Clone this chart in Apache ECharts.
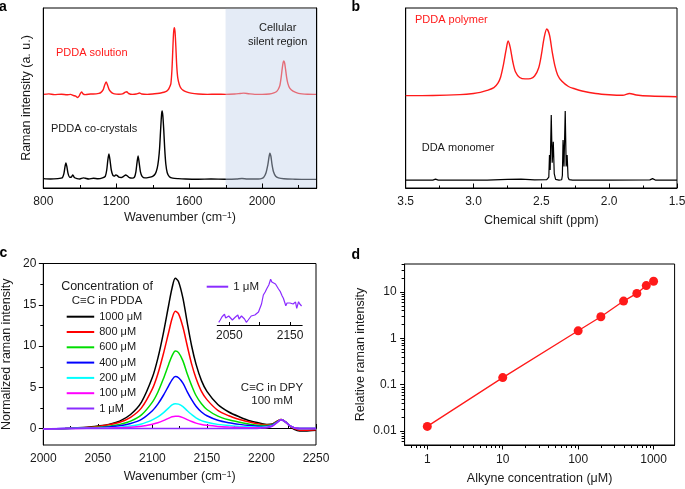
<!DOCTYPE html>
<html>
<head>
<meta charset="utf-8">
<script src="https://cdn.jsdelivr.net/npm/echarts@6/dist/echarts.min.js"></script>
<style>
  body { margin: 0; background: #fff; }
  #main { width: 685px; height: 489px; }
</style>
</head>
<body>
<div id="main"></div>
<script>
// ---- panel a : Raman spectra (wavenumber, a.u.) ----
const aRed = [[800,52.0],[830,52.3],[860,51.9],[900,52.1],[930,51.8],[950,52.0],[965,51.4],[978,51.0],[988,50.3],[996,51.0],[1003,52.4],[1010,53.4],[1018,52.3],[1030,51.9],[1060,52.2],[1090,52.3],[1105,52.6],[1115,53.0],[1128,54.5],[1136,57.0],[1145,58.9],[1153,57.0],[1162,54.5],[1175,53.0],[1190,52.3],[1215,52.1],[1235,52.3],[1250,53.2],[1258,53.5],[1268,52.5],[1290,52.0],[1310,52.2],[1328,52.8],[1340,52.2],[1370,52.0],[1400,52.2],[1425,52.5],[1445,52.8],[1462,53.2],[1477,53.8],[1488,55.0],[1495,56.5],[1500,58.0],[1506,66.0],[1511,78.0],[1515,86.5],[1519,89.0],[1523,86.5],[1527,79.0],[1532,68.0],[1538,61.0],[1546,57.5],[1555,55.5],[1568,54.2],[1585,53.4],[1610,52.7],[1650,52.2],[1700,52.0],[1750,52.1],[1800,52.0],[1850,52.2],[1880,52.5],[1900,52.7],[1925,52.4],[1960,52.0],[2000,52.0],[2040,52.2],[2065,52.8],[2080,53.6],[2090,55.0],[2098,57.0],[2105,61.5],[2111,66.5],[2116,69.8],[2120,70.6],[2124,69.5],[2129,66.0],[2135,61.5],[2142,58.0],[2152,55.5],[2170,53.8],[2200,52.6],[2250,52.1],[2300,52.0]];
const aBlack = [[800,5.2],[840,5.0],[880,5.2],[898,5.5],[905,5.8],[913,8.0],[919,11.8],[924,13.9],[930,11.5],[936,8.0],[945,6.0],[953,6.0],[962,7.3],[970,5.8],[985,5.2],[1000,5.0],[1020,5.6],[1030,5.4],[1050,5.0],[1075,5.4],[1100,5.1],[1125,5.6],[1140,6.5],[1148,10.0],[1154,15.5],[1160,18.9],[1166,15.5],[1173,10.0],[1182,7.0],[1190,6.6],[1198,7.3],[1206,6.9],[1215,6.0],[1228,5.8],[1242,6.6],[1252,7.2],[1260,6.8],[1272,5.8],[1288,5.5],[1300,6.0],[1308,9.0],[1314,14.0],[1320,17.8],[1326,14.0],[1333,9.0],[1342,6.5],[1358,5.6],[1380,5.9],[1400,6.5],[1415,8.0],[1425,11.0],[1432,15.5],[1438,22.0],[1444,33.0],[1449,41.0],[1452,42.8],[1456,40.0],[1461,32.0],[1466,22.0],[1472,13.5],[1480,8.5],[1492,6.3],[1510,5.5],[1540,5.2],[1580,5.0],[1650,4.9],[1720,5.0],[1800,4.9],[1860,5.0],[1890,5.3],[1920,5.0],[1980,5.0],[2000,5.3],[2010,6.0],[2022,8.5],[2032,13.0],[2038,17.0],[2043,19.4],[2049,17.5],[2055,13.0],[2063,9.0],[2075,6.5],[2090,5.6],[2120,5.1],[2180,4.9],[2240,4.8],[2300,4.8]];
const aSilent = [1800, 2300];
const aTicks = [800, 1200, 1600, 2000];
const aMinorTicks = [1000, 1400, 1800, 2200];

// ---- panel b : NMR (ppm, a.u.) ----
const bRed = [[3.5,51.3],[3.3,51.4],[3.1,51.9],[3.0,52.5],[2.95,53.1],[2.9,54.2],[2.85,55.8],[2.82,58.3],[2.8,61.7],[2.78,68.3],[2.76,76.7],[2.745,81.7],[2.73,78.3],[2.71,70],[2.69,64.4],[2.66,61.4],[2.62,60.6],[2.58,60.8],[2.55,62.2],[2.52,66.7],[2.5,73.9],[2.48,83.3],[2.46,88.3],[2.44,85],[2.42,75.6],[2.4,67.8],[2.38,62.8],[2.35,59.4],[2.3,56.4],[2.25,55],[2.2,53.9],[2.1,52.5],[2.0,51.8],[1.9,51.5],[1.85,52.5],[1.8,51.7],[1.7,51.1],[1.5,50.7]];
const bBlack = [[3.5,4.4],[3.3,4.4],[3.28,4.9],[3.26,4.4],[2.9,4.4],[2.75,4.8],[2.65,4.9],[2.55,4.5],[2.46,4.6],[2.445,6],[2.44,18.3],[2.435,10],[2.427,40.6],[2.42,14],[2.412,25.7],[2.405,8],[2.395,4.8],[2.37,4.4],[2.35,4.6],[2.345,7],[2.34,26.7],[2.333,12],[2.324,42.8],[2.317,12],[2.31,18.3],[2.303,6],[2.295,4.6],[2.27,4.4],[2.0,4.4],[1.7,4.5],[1.68,5.2],[1.66,4.4],[1.5,4.4]];

// ---- panel c : normalized spectra ----
const cWave = [2000,2020,2040,2050,2060,2070,2080,2090,2100,2105,2110,2115,2118,2121,2124,2128,2132,2136,2140,2145,2150,2160,2170,2180,2190,2200,2205,2210,2214,2218,2222,2226,2230,2235,2240,2250];
const c1000 = [-0.1,0.0,0.15,0.3,0.5,0.9,1.7,3.2,6.2,8.5,11.5,15.0,17.0,18.2,17.8,15.8,12.8,10.0,7.8,5.8,4.5,2.9,2.0,1.4,0.9,0.6,0.5,0.55,0.85,1.1,0.8,0.3,-0.1,-0.3,-0.3,-0.2];
const c800 = [-0.1,0.0,0.12,0.25,0.45,0.75,1.35,2.5,4.8,6.6,9.0,11.7,13.3,14.2,13.9,12.3,10.0,7.8,6.1,4.5,3.5,2.2,1.55,1.1,0.75,0.5,0.45,0.5,0.85,1.1,0.8,0.3,0.0,-0.2,-0.2,-0.15];
const c600 = [-0.05,0.0,0.08,0.15,0.28,0.5,0.9,1.65,3.2,4.4,6.0,7.8,8.8,9.4,9.2,8.2,6.6,5.2,4.0,3.0,2.3,1.5,1.05,0.75,0.5,0.35,0.35,0.45,0.8,1.05,0.8,0.35,0.1,0.0,0.0,0.0];
const c400 = [-0.05,0.0,0.05,0.1,0.18,0.32,0.6,1.1,2.15,2.95,4.0,5.2,5.9,6.3,6.15,5.5,4.45,3.5,2.7,2.0,1.55,1.0,0.7,0.5,0.35,0.25,0.28,0.4,0.75,1.05,0.8,0.35,0.1,0.0,0.0,0.0];
const c200 = [-0.05,0.0,0.03,0.05,0.09,0.16,0.3,0.55,1.05,1.4,1.9,2.5,2.85,3.0,2.95,2.65,2.15,1.7,1.3,0.95,0.75,0.5,0.35,0.25,0.18,0.15,0.2,0.35,0.7,1.05,0.8,0.35,0.1,0.0,0.0,0.0];
const c100 = [-0.05,0.0,0.02,0.03,0.05,0.08,0.15,0.28,0.52,0.7,0.95,1.25,1.42,1.5,1.48,1.32,1.08,0.85,0.65,0.48,0.38,0.25,0.18,0.13,0.1,0.1,0.15,0.3,0.68,1.05,0.8,0.35,0.1,0.0,0.0,0.0];
const c1 = [-0.05,0.0,0.0,0.0,0.0,0.0,0.0,0.0,0.0,0.0,0.0,0.0,0.0,0.0,0.0,0.0,0.0,0.0,0.0,0.0,0.0,0.0,0.0,0.0,0.0,0.05,0.1,0.3,0.7,1.05,0.8,0.35,0.1,0.0,0.0,0.0];
const cNames = ['1000 μM', '800 μM', '600 μM', '400 μM', '200 μM', '100 μM', '1 μM'];
const cColors = ['#000000', '#ff0000', '#00dd00', '#0000ff', '#00ffff', '#ff00ff', '#8a2cff'];
const cYTicks = [0, 5, 10, 15, 20];
const cYMinor = [2.5, 7.5, 12.5, 17.5];
// inset, 1 uM zoomed
const cInset = [[2032.5,2.7],[2035,5],[2038,8.3],[2042,10.7],[2044,7],[2046,6],[2049,9],[2052,8.3],[2055,5],[2057,6],[2060,8],[2064,10],[2066,6],[2068,6],[2070,9],[2072,11],[2075,6],[2078,2.7],[2081,5],[2083,6],[2086,9],[2089,11],[2092,10],[2095,10],[2098,13],[2101,15],[2103,21],[2106,30],[2109,33],[2112,36.7],[2115,40],[2118,45.7],[2120,43],[2123,42.7],[2126,41],[2128,40.7],[2131,36],[2134,33.3],[2137,29],[2139,26.7],[2141,23],[2143,19.3],[2145,22],[2148,23.3],[2150,22],[2153,23.7],[2155,21],[2157,21.3],[2159,23],[2161,16.7],[2164,23.3],[2166,21],[2169,19]];
const insetTicks = [2050, 2100, 2150];
const insetLabels = [2050, 2150];

// ---- panel d : calibration ----
const dConc = [1, 10, 100, 200, 400, 600, 800, 1000];
const dIntensity = [0.0126, 0.142, 1.45, 2.91, 6.35, 9.3, 13.7, 17.0];
const dXTicks = [1, 10, 100, 1000];
const dXMinor = [0.6,0.7,0.8,0.9,2,3,4,5,6,7,8,9,20,30,40,50,60,70,80,90,200,300,400,500,600,700,800,900];
const dYTicks = [0.01, 0.1, 1, 10];
const dYMinor = [0.006,0.007,0.008,0.009,0.02,0.03,0.04,0.05,0.06,0.07,0.08,0.09,0.2,0.3,0.4,0.5,0.6,0.7,0.8,0.9,2,3,4,5,6,7,8,9,20,30,40];

const FONT = '"Liberation Sans", Arial, Helvetica, sans-serif';
const TXT = '#1a1a1a';

function pairs(xs, ys) {
  let out = [];
  for (let i = 0; i < xs.length; i++) out.push([xs[i], ys[i]]);
  return out;
}
// plain numbers, no thousands separator
function plain(v) { return String(+Number(v).toPrecision(6)); }

const nameStyle = {
  fontSize: 12.5, color: TXT, fontFamily: FONT,
  rich: { sup: { fontSize: 8.5, color: TXT, fontFamily: FONT, verticalAlign: 'top' } }
};
const labelStyle = { fontSize: 12, color: TXT, fontFamily: FONT, formatter: plain };
const blackLine = { color: '#000', width: 1 };

const boxA = { left: 43.3, top: 8, width: 273.4, height: 180 };
const boxB = { left: 405.7, top: 8, width: 271.3, height: 180 };
const boxC = { left: 43.3, top: 263.5, width: 272.7, height: 181.5 };
const boxInset = { left: 217.2, top: 275, width: 85, height: 50 };
const boxD = { left: 404.6, top: 264, width: 270, height: 181 };

function grid(box, frame) {
  let g = Object.assign({ outerBoundsMode: 'none' }, box);
  if (frame) Object.assign(g, { show: true, borderColor: '#000', borderWidth: 1 });
  return g;
}

// short minor ticks, placed through the axis scales (dx, dy = tick direction in px)
function minorTicks(xi, yi, data, dx, dy) {
  return {
    type: 'custom', xAxisIndex: xi, yAxisIndex: yi, data: data, silent: true, clip: false, z: 10,
    renderItem: function (params, api) {
      const p = api.coord([api.value(0), api.value(1)]);
      const x = dx === 0 ? Math.round(p[0]) + 0.5 : p[0];
      const y = dy === 0 ? Math.round(p[1]) + 0.5 : p[1];
      return { type: 'line', shape: { x1: x, y1: y, x2: x + dx, y2: y + dy },
        style: { stroke: '#000', lineWidth: 1 } };
    }
  };
}

let chart = echarts.init(document.getElementById('main'));

let series = [
  // a
  { type: 'line', xAxisIndex: 0, yAxisIndex: 0, data: aBlack, smooth: 0.25, symbol: 'none',
    lineStyle: { color: '#000', width: 1.4 }, itemStyle: { color: '#000' } },
  { type: 'line', xAxisIndex: 0, yAxisIndex: 0, data: aRed, smooth: 0.25, symbol: 'none',
    lineStyle: { color: '#ff1a1a', width: 1.4 }, itemStyle: { color: '#ff1a1a' } },
  { type: 'line', xAxisIndex: 0, yAxisIndex: 0, data: [], z: 5, symbol: 'none',
    markArea: { silent: true, z: 5, itemStyle: { color: 'rgba(195,210,235,0.45)' },
      data: [[{ xAxis: aSilent[0], yAxis: 0 }, { xAxis: aSilent[1], yAxis: 99.6 }]] } },
  minorTicks(0, 0, aMinorTicks.map(function (v) { return [v, 0]; }), 0, -3),
  // b
  { type: 'line', xAxisIndex: 1, yAxisIndex: 2, data: bRed, smooth: 0.3, symbol: 'none',
    lineStyle: { color: '#ff1a1a', width: 1.4 }, itemStyle: { color: '#ff1a1a' } },
  { type: 'line', xAxisIndex: 1, yAxisIndex: 2, data: bBlack, symbol: 'none',
    lineStyle: { color: '#000', width: 1.2 }, itemStyle: { color: '#000' } }
];

// c
const cValues = [c1000, c800, c600, c400, c200, c100, c1];
for (let i = 0; i < cValues.length; i++) {
  series.push({
    name: cNames[i], type: 'line', xAxisIndex: 2, yAxisIndex: 3,
    data: pairs(cWave, cValues[i]), smooth: 0.3, symbol: 'none',
    lineStyle: { color: cColors[i], width: 1.5 }, itemStyle: { color: cColors[i] }
  });
}
series.push(minorTicks(2, 3, cYMinor.map(function (v) { return [2000, v]; }), -3, 0));
series.push({
  name: '1 μM', type: 'line', xAxisIndex: 3, yAxisIndex: 4, data: cInset, symbol: 'none',
  lineStyle: { color: '#8a2cff', width: 1.2 }, itemStyle: { color: '#8a2cff' }
});
// d
series.push({
  type: 'line', xAxisIndex: 4, yAxisIndex: 5, data: pairs(dConc, dIntensity),
  symbol: 'circle', symbolSize: 9,
  lineStyle: { color: '#ff1a1a', width: 1.3 }, itemStyle: { color: '#ff1a1a' }
});
series.push(minorTicks(4, 5, dXMinor.map(function (v) { return [v, 0.005]; }), 0, 3));
series.push(minorTicks(4, 5, dYMinor.map(function (v) { return [0.5, v]; }), -3, 0));

function txt(text, x, y, size, color, center) {
  return { type: 'text', z: 100, style: {
    text: text, x: x, y: y, font: size + 'px ' + FONT, fill: color,
    textAlign: center ? 'center' : 'left', align: center ? 'center' : 'left',
    textVerticalAlign: 'middle', verticalAlign: 'middle' } };
}
function letter(text, x, y) {
  return { type: 'text', z: 100, style: { text: text, x: x, y: y, font: 'bold 14px ' + FONT,
    fill: '#000', textVerticalAlign: 'middle', verticalAlign: 'middle' } };
}

let option = {
  animation: false,
  backgroundColor: '#fff',
  grid: [grid(boxA, true), grid(boxB, true), grid(boxC, true), grid(boxInset, false), grid(boxD, true)],
  xAxis: [
    { gridIndex: 0, type: 'value', min: 800, max: 2300, position: 'bottom', z: 10,
      axisLine: { lineStyle: blackLine },
      axisTick: { inside: true, length: 4.5, customValues: aTicks, lineStyle: blackLine },
      axisLabel: Object.assign({ customValues: aTicks, margin: 8 }, labelStyle),
      splitLine: { show: false },
      name: 'Wavenumber (cm{sup|−1})', nameLocation: 'middle', nameGap: 23, nameTextStyle: nameStyle },
    { gridIndex: 1, type: 'value', min: 1.5, max: 3.5, interval: 0.5, inverse: true,
      axisLine: { lineStyle: blackLine },
      axisTick: { inside: true, length: 4.5, lineStyle: blackLine },
      minorTick: { show: true, splitNumber: 2, length: 2.5, lineStyle: blackLine },
      axisLabel: Object.assign({}, labelStyle, { margin: 8, formatter: function (v) { return v.toFixed(1); } }),
      splitLine: { show: false }, minorSplitLine: { show: false },
      name: 'Chemical shift (ppm)', nameLocation: 'middle', nameGap: 26, nameTextStyle: nameStyle },
    { gridIndex: 2, type: 'value', min: 2000, max: 2250, interval: 50,
      axisLine: { lineStyle: blackLine },
      axisTick: { inside: true, length: 4.5, lineStyle: blackLine },
      minorTick: { show: true, splitNumber: 2, length: 2.5, lineStyle: blackLine },
      axisLabel: Object.assign({ margin: 8 }, labelStyle),
      splitLine: { show: false }, minorSplitLine: { show: false },
      name: 'Wavenumber (cm{sup|−1})', nameLocation: 'middle', nameGap: 25, nameTextStyle: nameStyle },
    { gridIndex: 3, type: 'value', min: 2030, max: 2170, position: 'bottom',
      axisLine: { lineStyle: blackLine },
      axisTick: { inside: true, length: 3, customValues: insetTicks, lineStyle: blackLine },
      axisLabel: Object.assign({ customValues: insetLabels, margin: 5 }, labelStyle),
      splitLine: { show: false } },
    { gridIndex: 4, type: 'log', logBase: 10, min: 0.5, max: 1900, position: 'bottom',
      axisLine: { lineStyle: blackLine },
      axisTick: { length: 4.5, customValues: dXTicks, lineStyle: blackLine },
      axisLabel: Object.assign({ customValues: dXTicks, margin: 9 }, labelStyle),
      splitLine: { show: false },
      name: 'Alkyne concentration (μM)', nameLocation: 'middle', nameGap: 27, nameTextStyle: nameStyle }
  ],
  yAxis: [
    { gridIndex: 0, type: 'value', min: 0, max: 100, position: 'left', z: 10,
      axisLine: { show: true, lineStyle: blackLine }, axisTick: { show: false }, axisLabel: { show: false },
      splitLine: { show: false },
      name: 'Raman intensity (a. u.)', nameLocation: 'middle', nameGap: 10, nameRotate: 90, nameTextStyle: nameStyle },
    { gridIndex: 0, type: 'value', min: 0, max: 100, position: 'right', z: 10,
      axisLine: { show: true, lineStyle: blackLine }, axisTick: { show: false }, axisLabel: { show: false },
      splitLine: { show: false } },
    { gridIndex: 1, type: 'value', min: 0, max: 100, position: 'left',
      axisLine: { show: true, lineStyle: blackLine }, axisTick: { show: false }, axisLabel: { show: false },
      splitLine: { show: false } },
    { gridIndex: 2, type: 'value', min: -2, max: 20, position: 'left',
      axisLine: { show: true, lineStyle: blackLine },
      axisTick: { show: true, length: 4.5, customValues: cYTicks, lineStyle: blackLine },
      axisLabel: Object.assign({ customValues: cYTicks, margin: 7 }, labelStyle),
      splitLine: { show: false },
      name: 'Normalized raman intensity', nameLocation: 'middle', nameGap: 30, nameRotate: 90, nameTextStyle: nameStyle },
    { gridIndex: 3, type: 'value', min: 0, max: 50, show: false },
    { gridIndex: 4, type: 'log', logBase: 10, min: 0.005, max: 40, position: 'left',
      axisLine: { show: true, lineStyle: blackLine },
      axisTick: { show: true, length: 4.5, customValues: dYTicks, lineStyle: blackLine },
      axisLabel: Object.assign({ customValues: dYTicks, margin: 8 }, labelStyle),
      splitLine: { show: false },
      name: 'Relative raman intensity', nameLocation: 'middle', nameGap: 38, nameRotate: 90, nameTextStyle: nameStyle }
  ],
  legend: [
    { data: cNames.map(function (n) { return { name: n, icon: 'rect' }; }),
      orient: 'vertical', left: 66.7, top: 309.7, padding: 0,
      itemWidth: 27.5, itemHeight: 2, itemGap: 1.3, selectedMode: false,
      textStyle: { fontSize: 11, color: TXT, fontFamily: FONT, lineHeight: 14 } },
    { data: [{ name: '1 μM', icon: 'rect' }],
      orient: 'horizontal', left: 206.7, top: 279.7, padding: 0,
      itemWidth: 21.5, itemHeight: 2, selectedMode: false,
      textStyle: { fontSize: 11.5, color: TXT, fontFamily: FONT, lineHeight: 14 } }
  ],
  graphic: [
    letter('a', -1, 7), letter('b', 351.5, 7), letter('c', -0.5, 253), letter('d', 351.5, 255),
    txt('PDDA solution', 56, 52.7, 11, '#ff1a1a', false),
    txt('PDDA co-crystals', 51, 129.3, 11, TXT, false),
    txt('Cellular', 277.7, 27.7, 11, TXT, true),
    txt('silent region', 277.7, 41.7, 11, TXT, true),
    txt('PDDA polymer', 415, 20, 11, '#ff1a1a', false),
    txt('DDA monomer', 421.7, 148.3, 11, TXT, false),
    txt('Concentration of', 107, 286.7, 12.5, TXT, true),
    txt('C≡C in PDDA', 107, 301, 11.5, TXT, true),
    txt('C≡C in DPY', 272, 388, 11.5, TXT, true),
    txt('100 mM', 272, 400.5, 11.5, TXT, true)
  ],
  series: series
};

chart.setOption(option);
</script>
</body>
</html>
